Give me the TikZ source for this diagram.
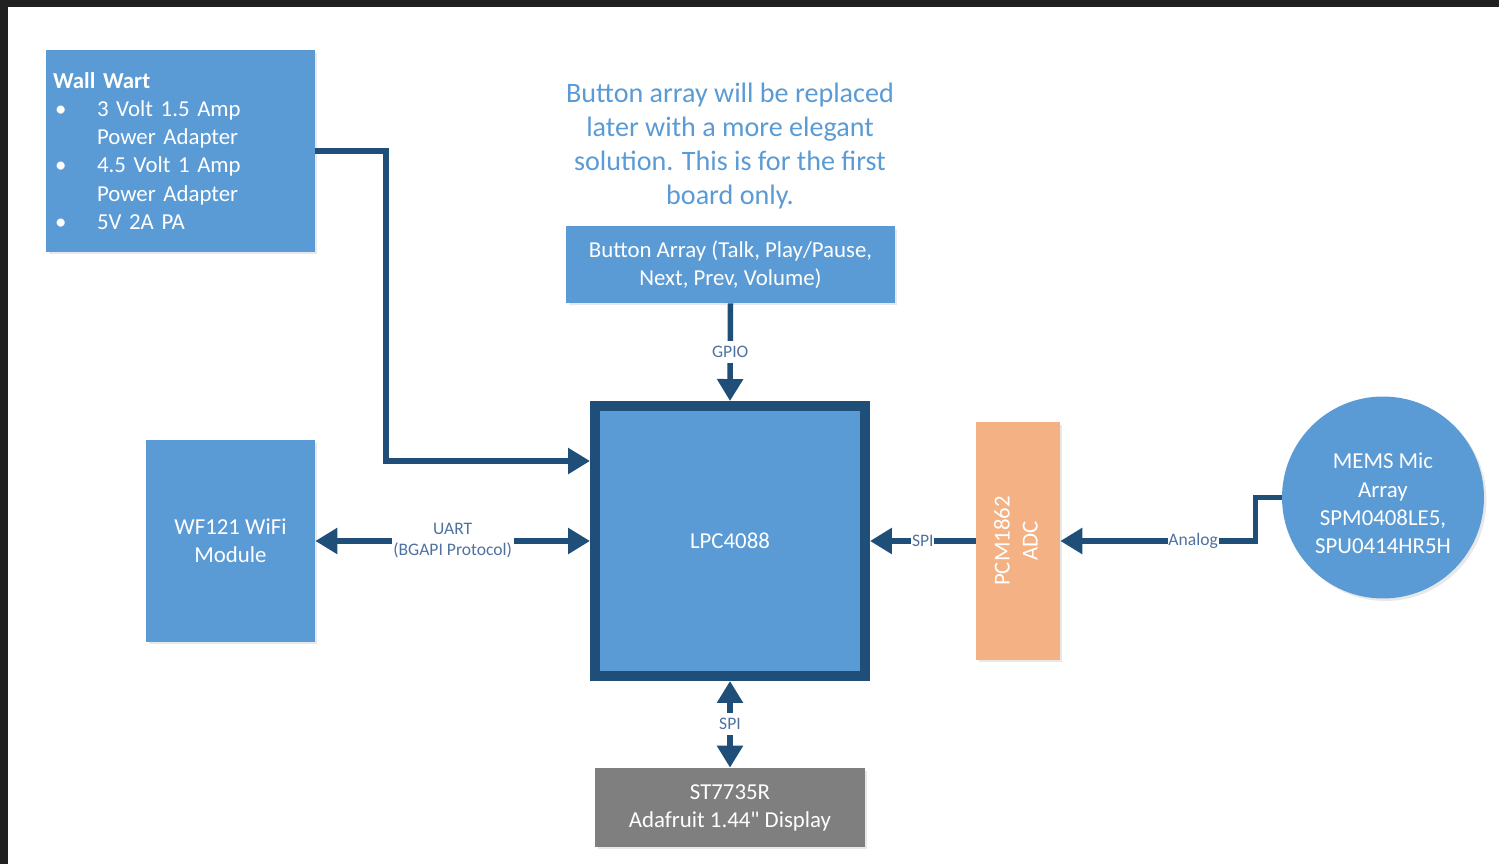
\documentclass[tikz,border=0pt]{standalone}
\usepackage{fontspec}
\setmainfont{Carlito}
\usepackage{graphicx}
\usetikzlibrary{arrows.meta,shadows}

\definecolor{blockblue}{HTML}{5B9BD5}
\definecolor{linkblue}{HTML}{1F4E79}
\definecolor{adcorange}{HTML}{F4B183}
\definecolor{dispgray}{HTML}{7F7F7F}
\definecolor{notetext}{HTML}{5B9BD5}
\definecolor{labeltext}{HTML}{4E72A0}
\definecolor{framedark}{HTML}{202020}

\newcommand{\wwbullet}{\hspace*{0.04cm}\makebox[0.84cm][l]{\textbullet}}
\newcommand{\wwindent}{\hspace*{0.88cm}}

\begin{document}
\begin{tikzpicture}[x=0.02cm, y=-0.02cm,
    block/.style={fill=blockblue, text=white, align=center,
      font=\fontsize{13}{16}\selectfont,
      drop shadow={opacity=0.18, shadow xshift=0.05cm, shadow yshift=-0.05cm}},
    link/.style={draw=linkblue, line width=0.11cm},
    onearrow/.style={link, -{Triangle[length=0.44cm,width=0.5cm]}},
    twoarrow/.style={link, {Triangle[length=0.44cm,width=0.5cm]}-{Triangle[length=0.44cm,width=0.5cm]}},
    busname/.style={fill=white, text=labeltext, inner sep=1pt, align=center,
      font=\fontsize{10}{12}\selectfont}]
    \useasboundingbox (0,0) rectangle (1499,864);
    \fill[white] (0,0) rectangle (1499,864);
    \fill[framedark] (0,0) rectangle (1499,7);
    \fill[framedark] (0,0) rectangle (8,864);

    % blocks
    \node[block, align=left, text width=5.1cm, minimum width=5.38cm, minimum height=4.04cm] (wallwart) at (180.5,151)
      {\textbf{Wall Wart}\\ \wwbullet 3 Volt 1.5 Amp\\ \wwindent Power Adapter\\ \wwbullet 4.5 Volt 1 Amp\\ \wwindent Power Adapter\\ \wwbullet 5V 2A PA};
    \node[text=notetext, align=center, font=\fontsize{16}{19.4}\selectfont] (note) at (730,146)
      {Button array will be replaced\\ later with a more elegant\\ solution. This is for the first\\ board only.};
    \node[block, minimum width=6.58cm, minimum height=1.54cm] (buttons) at (730.5,264.5)
      {Button Array (Talk, Play/Pause,\\ Next, Prev, Volume)};
    \node[block, draw=linkblue, line width=0.2cm, minimum width=5.4cm, minimum height=5.4cm] (lpc) at (730,541) {LPC4088};
    \node[block, minimum width=3.38cm, minimum height=4.04cm] (wifi) at (230.5,541) {WF121 WiFi\\ Module};
    \node[block, fill=adcorange, minimum width=1.68cm, minimum height=4.76cm] (adc) at (1018,541)
      {\rotatebox{90}{\begin{tabular}{@{}c@{}}PCM1862\\ ADC\end{tabular}}};
    \node[block, circle, minimum size=4.04cm, inner sep=0pt] (mems) at (1383,497.5)
      {\raisebox{-0.16cm}[\height][\depth]{\begin{tabular}{@{}c@{}}MEMS Mic\\ Array\\ SPM0408LE5,\\ SPU0414HR5H\end{tabular}}};
    \node[block, fill=dispgray, minimum width=5.4cm, minimum height=1.58cm] (display) at (730,807.5)
      {ST7735R\\ Adafruit 1.44\textquotedbl{} Display};

    % connectors
    \coordinate (pwrbend) at (386,151);
    \draw[onearrow] (wallwart.east) -- (pwrbend) |- ([yshift=1.6cm]lpc.west);
    \draw[onearrow] (buttons.south) -- node[busname, inner ysep=3pt] {GPIO} (lpc.north);
    \draw[twoarrow] (wifi.east) -- node[busname] {UART\\ (BGAPI Protocol)} (lpc.west);
    \draw[onearrow] (adc.west) -- node[busname, inner sep=0.5pt] {SPI} (lpc.east);
    \draw[onearrow] (mems.west) -- ++(-26,0) |- node[busname, pos=0.66, inner sep=0.5pt] {Analog} (adc.east);
    \draw[twoarrow] (lpc.south) -- node[busname, inner ysep=3pt] {SPI} (display.north);
\end{tikzpicture}
\end{document}
